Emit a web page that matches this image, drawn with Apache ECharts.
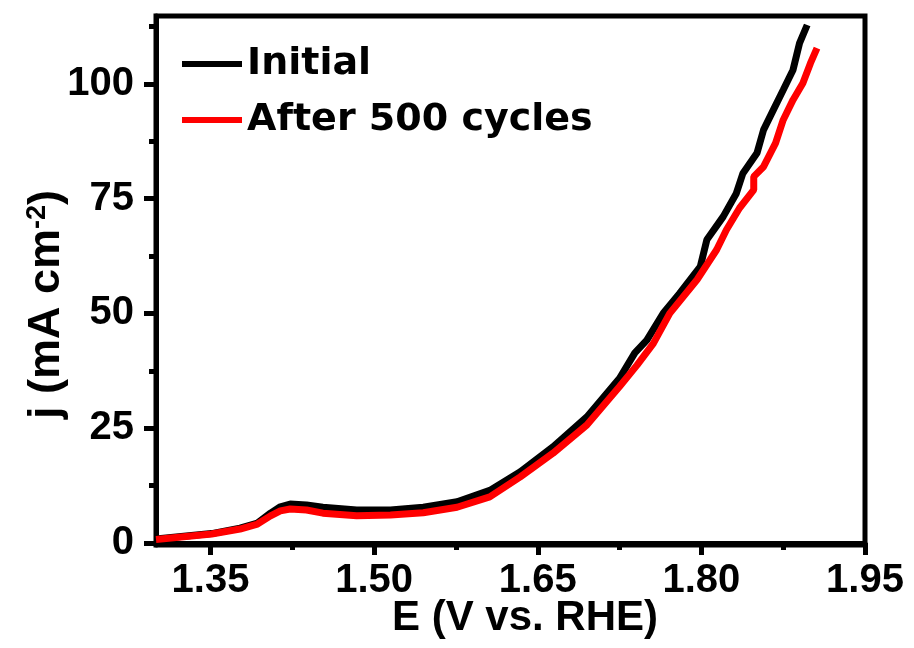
<!DOCTYPE html>
<html>
<head>
<meta charset="utf-8">
<script src="https://cdn.jsdelivr.net/npm/echarts@6/dist/echarts.min.js"></script>
<style>html,body{margin:0;padding:0;background:#fff}#c{width:914px;height:648px}</style>
</head>
<body>
<div id="c"></div>
<script>
const E_initial = [1.300, 1.351, 1.377, 1.393, 1.405, 1.414, 1.423, 1.438, 1.453, 1.484, 1.515, 1.545, 1.576, 1.606, 1.634, 1.664, 1.695, 1.725, 1.739, 1.750, 1.765, 1.780, 1.799, 1.805, 1.820, 1.832, 1.838, 1.851, 1.857, 1.866, 1.875, 1.884, 1.890, 1.897];
const J_initial = [0.85, 2.04, 3.23, 4.31, 6.49, 7.87, 8.47, 8.27, 7.78, 7.18, 7.18, 7.78, 8.96, 11.44, 15.49, 20.93, 27.46, 35.87, 41.41, 44.18, 50.02, 54.37, 60.21, 66.04, 71.09, 76.14, 80.49, 84.94, 89.99, 94.34, 98.69, 103.05, 108.88, 112.84];
const E_cycled = [1.300, 1.351, 1.377, 1.393, 1.405, 1.414, 1.423, 1.438, 1.453, 1.484, 1.515, 1.545, 1.576, 1.606, 1.634, 1.664, 1.695, 1.725, 1.741, 1.756, 1.771, 1.796, 1.814, 1.823, 1.835, 1.848, 1.848, 1.857, 1.868, 1.875, 1.884, 1.893, 1.900, 1.906];
const J_cycled = [0.75, 1.94, 3.03, 4.12, 5.90, 6.98, 7.38, 7.18, 6.49, 5.90, 6.09, 6.59, 7.78, 10.05, 14.40, 19.55, 25.68, 34.09, 38.74, 43.49, 50.02, 57.34, 63.87, 68.22, 72.97, 76.93, 79.80, 81.97, 87.12, 92.16, 96.52, 100.17, 104.53, 107.79];
const seriesNames = ['Initial', 'After 500 cycles'];
const xMajorTicks = [1.35, 1.50, 1.65, 1.80, 1.95];
const xMinorTicks = [1.425, 1.575, 1.725, 1.875];
const yMajorTicks = [0, 25, 50, 75, 100];
const yMinorTicks = [12.5, 37.5, 62.5, 87.5, 112.5];

const zip = (a, b) => a.map((v, i) => [v, b[i]]);
const font = 'Liberation Sans, Arial, sans-serif';
const AXW = 5;
const X_MIN = 1.30, X_MAX = 1.95, Y_MIN = -0.45, Y_MAX = 114.8;

function tickAxis(min, max, pos, values, len) {
  return {
    type: 'value', min: min, max: max, position: pos, offset: 0,
    axisLine: {show: false},
    axisTick: {show: true, inside: false, length: len, lineStyle: {color: '#000', width: 5}, customValues: values},
    axisLabel: {show: false},
    splitLine: {show: false}
  };
}

const chart = echarts.init(document.getElementById('c'), null, {renderer: 'canvas'});
chart.setOption({
  animation: false,
  backgroundColor: '#fff',
  grid: {left: 156, right: 49, top: 16, bottom: 103, show: true, borderColor: '#000', borderWidth: AXW, backgroundColor: 'transparent'},
  legend: {
    orient: 'vertical', left: 182, top: 44, padding: 0, itemWidth: 60, itemHeight: 6, itemGap: 16,
    icon: 'rect',
    textStyle: {fontFamily: 'DejaVu Sans', fontWeight: 'bold', fontSize: 38, color: '#000', lineHeight: 40},
    data: seriesNames
  },
  xAxis: [{
    type: 'value', min: X_MIN, max: X_MAX, position: 'bottom',
    name: 'E (V vs. RHE)', nameLocation: 'middle', nameGap: 52, nameMoveOverlap: false,
    nameTextStyle: {fontFamily: font, fontWeight: 'bold', fontSize: 42, color: '#000', padding: [0, 0, 0, 29]},
    axisLine: {show: true, lineStyle: {color: '#000', width: AXW}},
    axisTick: {show: false},
    axisLabel: {show: true, margin: 16, customValues: xMajorTicks, formatter: v => v.toFixed(2), fontFamily: font, fontWeight: 'bold', fontSize: 40, color: '#000'},
    splitLine: {show: false}
  },
  tickAxis(X_MIN, X_MAX, 'bottom', xMajorTicks, 12),
  tickAxis(X_MIN, X_MAX, 'bottom', xMinorTicks, 7)],
  yAxis: [{
    type: 'value', min: Y_MIN, max: Y_MAX, position: 'left',
    name: 'j (mA cm{sup|-2})', nameLocation: 'middle', nameGap: 87, nameRotate: 90, nameMoveOverlap: false,
    nameTextStyle: {fontFamily: font, fontWeight: 'bold', fontSize: 45, color: '#000', padding: [0, 48, 0, 0],
      rich: {sup: {fontFamily: font, fontWeight: 'bold', fontSize: 27, color: '#000', verticalAlign: 'top'}}},
    axisLine: {show: true, lineStyle: {color: '#000', width: AXW}},
    axisTick: {show: false},
    axisLabel: {show: true, margin: 22, customValues: yMajorTicks, fontFamily: font, fontWeight: 'bold', fontSize: 40, color: '#000'},
    splitLine: {show: false}
  },
  tickAxis(Y_MIN, Y_MAX, 'left', yMajorTicks, 12),
  tickAxis(Y_MIN, Y_MAX, 'left', yMinorTicks, 7)],
  series: [{
    name: seriesNames[0], type: 'line', xAxisIndex: 0, yAxisIndex: 0,
    data: zip(E_initial, J_initial), showSymbol: false, symbol: 'none',
    lineStyle: {color: '#000', width: 7}, itemStyle: {color: '#000'}, z: 2
  }, {
    name: seriesNames[1], type: 'line', xAxisIndex: 0, yAxisIndex: 0,
    data: zip(E_cycled, J_cycled), showSymbol: false, symbol: 'none',
    lineStyle: {color: '#ff0000', width: 7}, itemStyle: {color: '#ff0000'}, z: 3
  }]
});
</script>
</body>
</html>
